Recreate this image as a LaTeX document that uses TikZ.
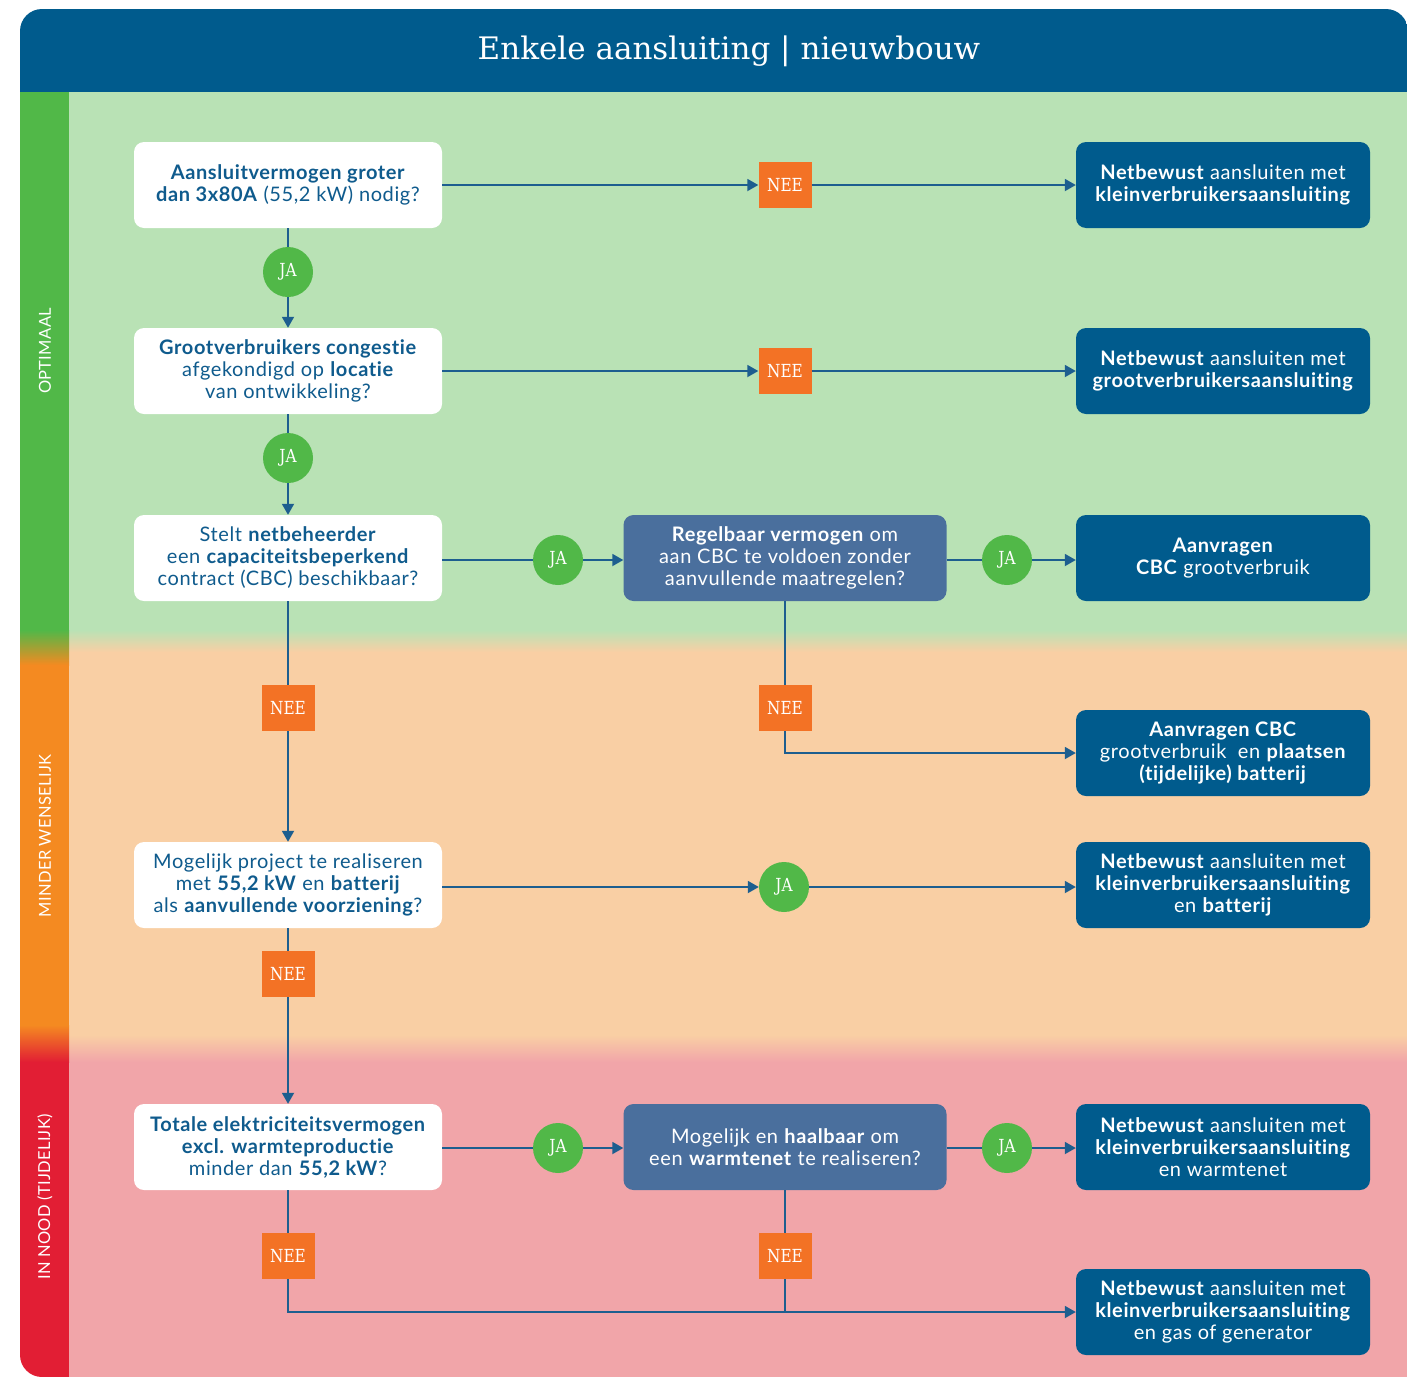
\documentclass[tikz,border=0pt]{standalone}
\usepackage{fontspec}
\setmainfont{Lato}[LetterSpace=3,Ligatures={NoCommon,NoRequired,NoContextual}]
\newfontfamily\slab{DejaVu Serif}
\newfontfamily\slabc{DejaVu Serif}[FakeStretch=0.85]
\newfontfamily\sidefont{Lato}[LetterSpace=2]
\usetikzlibrary{arrows.meta}
\definecolor{hdrblue}{RGB}{0,91,141}
\definecolor{midblue}{RGB}{74,111,157}
\definecolor{txtblue}{RGB}{15,91,141}
\definecolor{linec}{RGB}{29,94,143}
\definecolor{greenbg}{RGB}{185,226,181}
\definecolor{greenside}{RGB}{81,184,72}
\definecolor{orangebg}{RGB}{249,207,164}
\definecolor{orangeside}{RGB}{244,138,33}
\definecolor{redbg}{RGB}{241,165,169}
\definecolor{redside}{RGB}{226,30,52}
\definecolor{neeor}{RGB}{243,114,37}
\definecolor{jagreen}{RGB}{81,184,72}
\tikzset{
  body/.style={font=\fontsize{20}{22}\selectfont},
  qbox/.style={body,rectangle,rounded corners=10pt,fill=white,text=txtblue,minimum width=308pt,minimum height=86pt,align=center,inner sep=0pt},
  mbox/.style={body,rectangle,rounded corners=10pt,fill=midblue,text=white,minimum width=323pt,minimum height=86pt,align=center,inner sep=0pt},
  rbox/.style={body,rectangle,rounded corners=10pt,fill=hdrblue,text=white,minimum width=294pt,minimum height=86pt,align=center,inner sep=0pt},
  neetag/.style={rectangle,fill=neeor,text=white,minimum width=53pt,minimum height=46pt,inner sep=0pt,font=\slabc\fontsize{18}{18}\selectfont},
  jatag/.style={circle,fill=jagreen,text=white,minimum size=50pt,inner sep=0pt,font=\slabc\fontsize{18}{18}\selectfont},
  conn/.style={draw=linec,line width=1.8pt},
  arr/.style={conn,-{Triangle[length=11pt,width=12pt]}},
  sidelab/.style={text=white,rotate=90,font=\sidefont\fontsize{16.5}{16.5}\selectfont}
}
\begin{document}
\begin{tikzpicture}[x=1pt,y=-1pt]
\useasboundingbox (0,0) rectangle (1407,1376);
\fill[white] (0,0) rectangle (1407,1376);
\begin{scope}
\clip[rounded corners=22pt] (20,9) rectangle (1408,1377);
% bands
\fill[greenbg] (69,92) rectangle (1430,630);
\shade[top color=greenbg,bottom color=orangebg] (69,630) rectangle (1430,652);
\fill[orangebg] (69,652) rectangle (1430,1035);
\shade[top color=orangebg,bottom color=redbg] (69,1035) rectangle (1430,1062);
\fill[redbg] (69,1062) rectangle (1430,1400);
% side bar
\fill[greenside] (20,92) rectangle (69,630);
\shade[top color=greenside,bottom color=orangeside] (20,630) rectangle (69,665);
\fill[orangeside] (20,665) rectangle (69,1025);
\shade[top color=orangeside,bottom color=redside] (20,1025) rectangle (69,1062);
\fill[redside] (20,1062) rectangle (69,1400);
% header
\fill[hdrblue] (20,9) rectangle (1430,92);
\end{scope}
\fill[redbg] (1370,1330) rectangle (1410,1380);
\node[text=white,font=\slab\fontsize{31}{31}\selectfont] (title) at (729,51) {Enkele aansluiting | nieuwbouw};
\node[sidelab] (s1) at (45,351) {OPTIMAAL};
\node[sidelab] (s2) at (45,836) {MINDER WENSELIJK};
\node[sidelab] (s3) at (45,1197) {IN NOOD (TIJDELIJK)};
% left column
\node[qbox] (b1) at (288,185) {\textbf{Aansluitvermogen groter}\\\textbf{dan 3x80A} (55,2 kW) nodig?};
\node[jatag] (j1) at (288,272) {JA};
\node[qbox] (b2) at (288,371) {\textbf{Grootverbruikers congestie}\\afgekondigd op \textbf{locatie}\\van ontwikkeling?};
\node[jatag] (j2) at (288,458) {JA};
\node[qbox] (b3) at (288,558) {Stelt \textbf{netbeheerder}\\een \textbf{capaciteitsbeperkend}\\contract (CBC) beschikbaar?};
\node[neetag] (n3) at (288,708) {NEE};
\node[qbox] (b4) at (288,885) {Mogelijk project te realiseren\\met \textbf{55,2 kW} en \textbf{batterij}\\als \textbf{aanvullende voorziening}?};
\node[neetag] (n4) at (288,974) {NEE};
\node[qbox] (b5) at (288,1147) {\textbf{Totale elektriciteitsvermogen}\\\textbf{excl. warmteproductie}\\minder dan \textbf{55,2 kW}?};
\node[neetag] (n5) at (288,1256) {NEE};
% middle column
\node[neetag] (n1) at (785,185) {NEE};
\node[neetag] (n2) at (785,371) {NEE};
\node[jatag] (j3a) at (558,560) {JA};
\node[mbox] (m1) at (785,558) {\textbf{Regelbaar vermogen} om\\aan CBC te voldoen zonder\\aanvullende maatregelen?};
\node[jatag] (j3b) at (1007,560) {JA};
\node[neetag] (nm1) at (785,708) {NEE};
\node[jatag] (j4) at (784,887) {JA};
\node[jatag] (j5a) at (558,1148) {JA};
\node[mbox] (m2) at (785,1147) {Mogelijk en \textbf{haalbaar} om\\een \textbf{warmtenet} te realiseren?};
\node[jatag] (j5b) at (1007,1148) {JA};
\node[neetag] (nm2) at (785,1256) {NEE};
% right column
\node[rbox] (r1) at (1223,185) {\textbf{Netbewust} aansluiten met\\\textbf{kleinverbruikersaansluiting}};
\node[rbox] (r2) at (1223,371) {\textbf{Netbewust} aansluiten met\\\textbf{grootverbruikersaansluiting}};
\node[rbox] (r3) at (1223,558) {\textbf{Aanvragen}\\\textbf{CBC} grootverbruik};
\node[rbox] (r4) at (1223,753) {\textbf{Aanvragen CBC}\\grootverbruik~ en \textbf{plaatsen}\\\textbf{(tijdelijke) batterij}};
\node[rbox] (r5) at (1223,885) {\textbf{Netbewust} aansluiten met\\\textbf{kleinverbruikersaansluiting}\\en \textbf{batterij}};
\node[rbox] (r6) at (1223,1147) {\textbf{Netbewust} aansluiten met\\\textbf{kleinverbruikersaansluiting}\\en warmtenet};
\node[rbox] (r7) at (1223,1312) {\textbf{Netbewust} aansluiten met\\\textbf{kleinverbruikersaansluiting}\\en gas of generator};
% connectors
\draw[arr] (b1) -- (n1);
\draw[arr] (n1) -- (r1);
\draw[arr] (b2) -- (n2);
\draw[arr] (n2) -- (r2);
\draw[conn] (b1) -- (j1);
\draw[arr] (j1) -- (b2);
\draw[conn] (b2) -- (j2);
\draw[arr] (j2) -- (b3);
\draw[conn] (b3.east |- j3a) -- (j3a);
\draw[arr] (j3a) -- (m1.west |- j3a);
\draw[conn] (m1.east |- j3b) -- (j3b);
\draw[arr] (j3b) -- (r3.west |- j3b);
\draw[conn] (b3) -- (n3);
\draw[arr] (n3) -- (b4);
\draw[conn] (m1) -- (nm1);
\draw[arr] (nm1) |- (r4);
\draw[arr] (b4.east |- j4) -- (j4);
\draw[arr] (j4) -- (r5.west |- j4);
\draw[conn] (b4) -- (n4);
\draw[arr] (n4) -- (b5);
\draw[conn] (b5.east |- j5a) -- (j5a);
\draw[arr] (j5a) -- (m2.west |- j5a);
\draw[conn] (m2.east |- j5b) -- (j5b);
\draw[arr] (j5b) -- (r6.west |- j5b);
\draw[conn] (b5) -- (n5);
\draw[arr] (n5) |- (r7);
\draw[conn] (m2) -- (nm2);
\draw[conn] (nm2) -- (nm2 |- r7.west);
\end{tikzpicture}
\end{document}
